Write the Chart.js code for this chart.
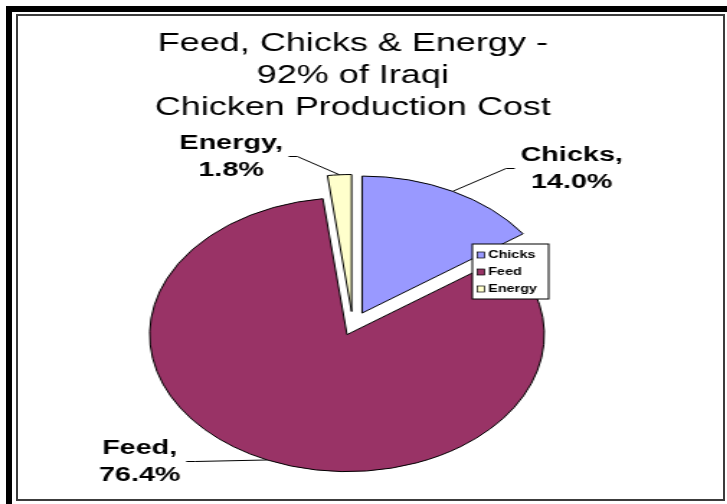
<!DOCTYPE html>
<html>
<head>
<meta charset="utf-8">
<script src="https://cdn.jsdelivr.net/npm/chart.js@4"></script>
<style>
  body { margin: 0; width: 727px; height: 504px; overflow: hidden; background: #fff; position: relative; }
  #frame { position: absolute; left: 6px; top: 6px; width: 715px; height: 492px; border-top: 6px solid #000; border-left: 6px solid #000; }
  #plot { position: absolute; left: 16px; top: 14px; width: 709px; height: 487px; box-sizing: border-box; border: 2px solid #3c3c3c; }
  #stretch { position: absolute; left: 0; top: 0; width: 505px; height: 504px; transform: scaleX(1.44); transform-origin: 0 0; }
</style>
</head>
<body>
<div id="frame"></div>
<div id="plot"></div>
<div id="stretch"><canvas id="chart" width="505" height="504"></canvas></div>
<script>
const LABELS = ['Chicks', 'Feed', 'Energy']
const SHARES = [14.0, 76.4, 1.8]
const COLOURS = ['#9999FF', '#993366', '#FFFFCC']
const TITLE = ['Feed, Chicks & Energy -', '92% of Iraqi', 'Chicken Production Cost']
// how far each slice is pulled out of the pie (px)
const EXPLODE = [14, 10, 14]
// centre of each data label block, and the legend box
const LABEL_AT = [{ x: 397, y: 168.5 }, { x: 97, y: 461.5 }, { x: 160.5, y: 156.5 }]
const LEGEND_BOX = { x: 328, y: 244, w: 53, h: 55 }

const FONT = '"Liberation Sans", Arial, Helvetica, sans-serif'

// helpers
const dataLabel = (i) => [LABELS[i] + ',', SHARES[i].toFixed(1) + '%']

// pull slices out the way excel does, without growing their radius
const drawArc = Chart.ArcElement.prototype.draw
Chart.ArcElement.prototype.draw = function (ctx) {
  const i = this.$context ? this.$context.dataIndex : 0
  const mid = (this.startAngle + this.endAngle) / 2
  ctx.save()
  ctx.translate(Math.cos(mid) * EXPLODE[i], Math.sin(mid) * EXPLODE[i])
  drawArc.call(this, ctx)
  ctx.restore()
}

// data labels with leader lines
const sliceLabels = {
  id: 'sliceLabels',
  afterDatasetsDraw(chart) {
    const { ctx } = chart
    const arcs = chart.getDatasetMeta(0).data
    ctx.save()
    ctx.font = `bold 20px ${FONT}`
    ctx.fillStyle = '#000'
    ctx.strokeStyle = '#000'
    ctx.lineWidth = 1
    ctx.textAlign = 'center'
    ctx.textBaseline = 'middle'
    arcs.forEach((arc, i) => {
      const lines = dataLabel(i)
      const at = LABEL_AT[i]
      const mid = (arc.startAngle + arc.endAngle) / 2
      const r = arc.outerRadius + EXPLODE[i]
      const px = arc.x + Math.cos(mid) * r
      const py = arc.y + Math.sin(mid) * r
      const half = Math.max(...lines.map(t => ctx.measureText(t).width)) / 2
      const dir = px > at.x ? 1 : -1
      const sx = at.x + dir * (half + 4)
      ctx.beginPath()
      ctx.moveTo(sx, at.y)
      ctx.lineTo(sx + dir * 6, at.y)
      ctx.lineTo(px, py)
      ctx.stroke()
      lines.forEach((t, j) => ctx.fillText(t, at.x, at.y + (j - 0.5) * 27))
    })
    ctx.restore()
  }
}

// boxed legend sitting over the pie
const boxLegend = {
  id: 'boxLegend',
  afterDraw(chart) {
    const { ctx } = chart
    const b = LEGEND_BOX
    ctx.save()
    ctx.fillStyle = '#fff'
    ctx.fillRect(b.x, b.y, b.w, b.h)
    ctx.strokeStyle = '#000'
    ctx.lineWidth = 1
    ctx.strokeRect(b.x, b.y, b.w, b.h)
    ctx.font = `bold 10px ${FONT}`
    ctx.textBaseline = 'middle'
    LABELS.forEach((label, i) => {
      const y = b.y + 11 + i * 17
      ctx.fillStyle = COLOURS[i]
      ctx.fillRect(b.x + 3.5, y - 3, 5, 6)
      ctx.lineWidth = 0.7
      ctx.strokeRect(b.x + 3.5, y - 3, 5, 6)
      ctx.fillStyle = '#000'
      ctx.fillText(label, b.x + 11, y)
    })
    ctx.restore()
  }
}

// setup
new Chart(document.getElementById('chart'), {
  type: 'pie',
  data: {
    labels: LABELS,
    datasets: [{
      data: SHARES,
      backgroundColor: COLOURS,
      borderColor: '#000',
      borderWidth: 1
    }]
  },
  options: {
    responsive: false,
    animation: false,
    devicePixelRatio: 1,
    radius: 137,
    layout: { padding: { left: 0, right: 15, top: 0, bottom: 0 } },
    plugins: {
      legend: { display: false },
      tooltip: { enabled: false },
      title: {
        display: true,
        text: TITLE,
        color: '#000',
        font: { family: FONT, size: 25, weight: 'normal', lineHeight: 1.28 },
        padding: { top: 28.6, bottom: 22.4 }
      }
    }
  },
  plugins: [sliceLabels, boxLegend]
})
</script>
</body>
</html>
